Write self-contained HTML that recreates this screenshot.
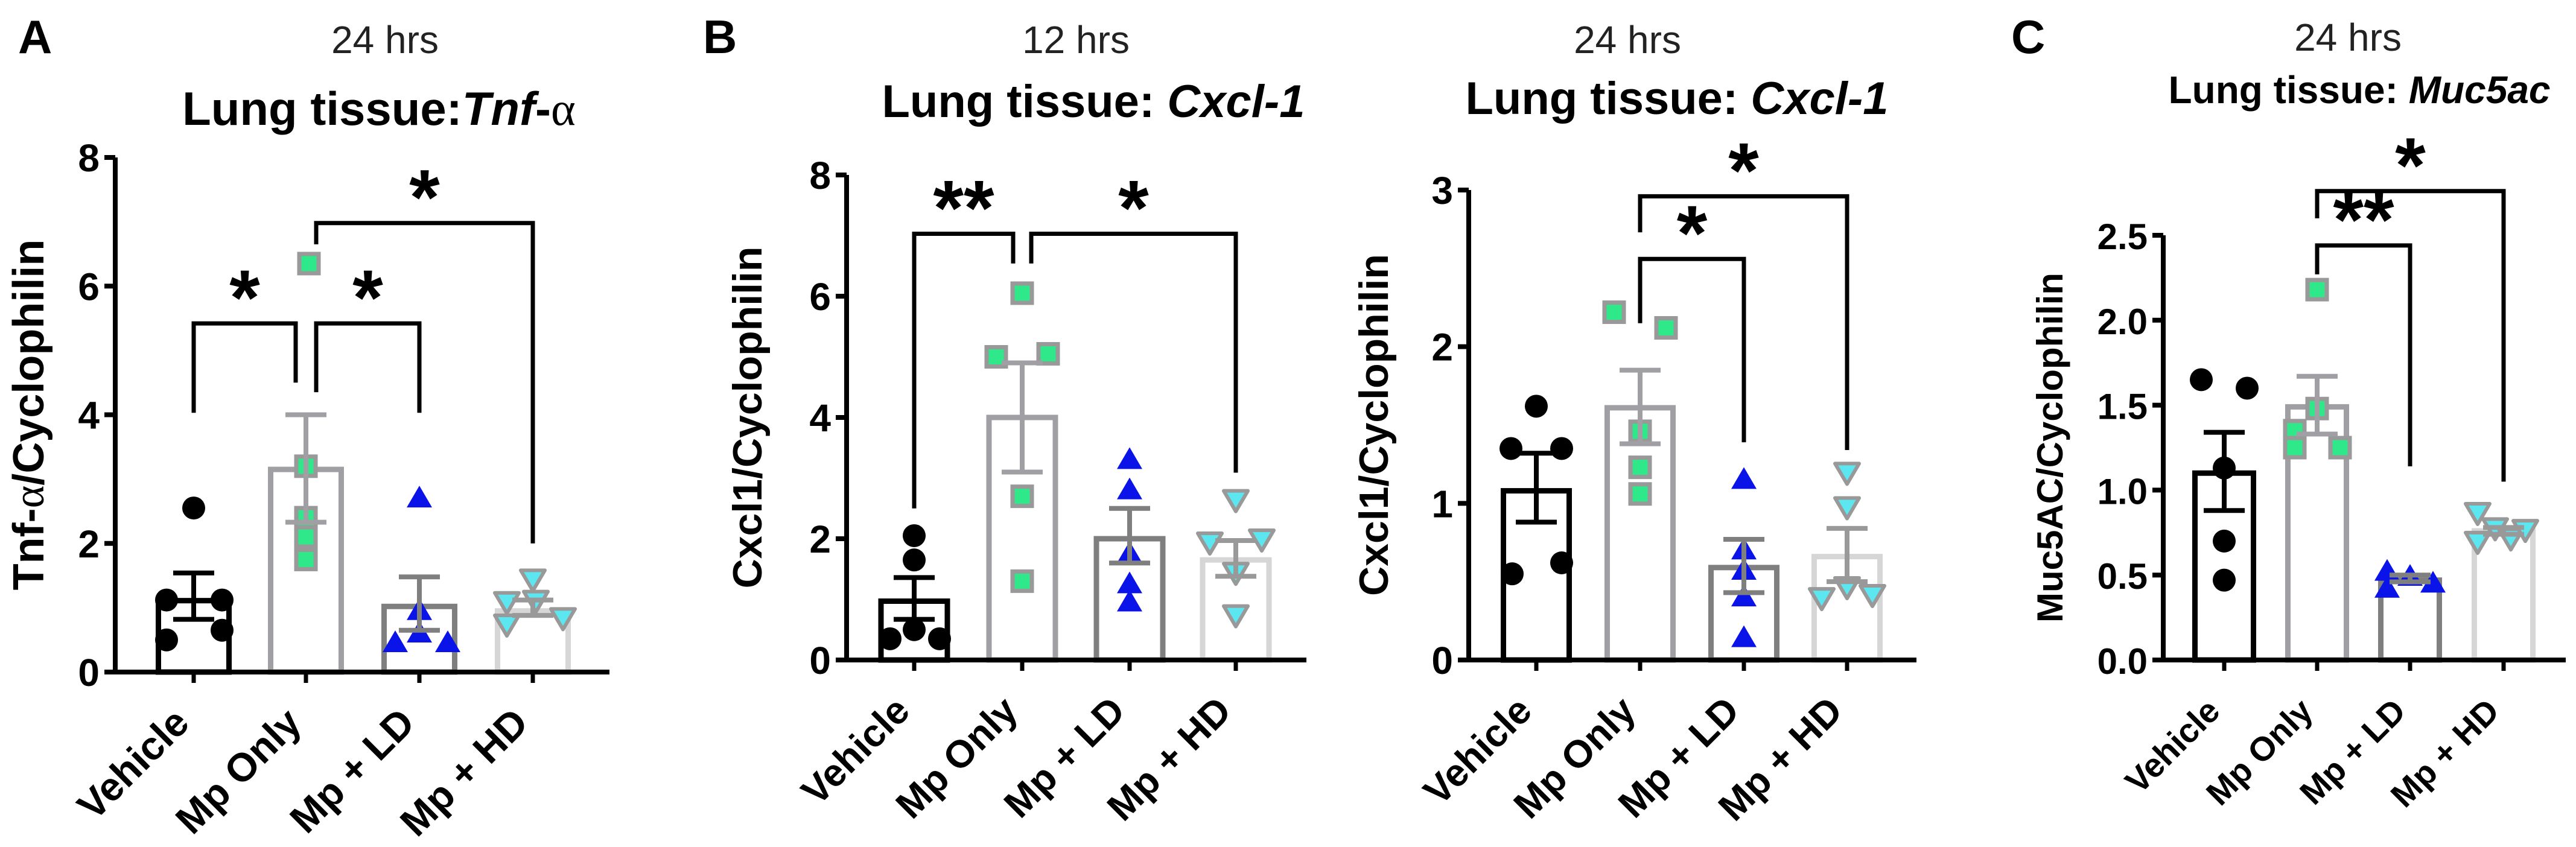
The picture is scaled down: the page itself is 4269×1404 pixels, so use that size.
<!DOCTYPE html>
<html><head><meta charset="utf-8"><style>
html,body{margin:0;padding:0;background:#fff;}
svg{display:block;font-family:"Liberation Sans",Arial,sans-serif;}
</style></head><body>
<svg id="fig" width="4269" height="1404" viewBox="0 0 4269 1404" xmlns="http://www.w3.org/2000/svg">
<text x="30" y="88" font-size="78" font-weight="bold">A</text>
<text x="1165" y="88" font-size="78" font-weight="bold">B</text>
<text x="3333" y="88" font-size="78" font-weight="bold">C</text>
<text x="638" y="88" font-size="64" text-anchor="middle" fill="#222">24 hrs</text>
<text x="1783" y="88" font-size="64" text-anchor="middle" fill="#222">12 hrs</text>
<text x="2697" y="88" font-size="64" text-anchor="middle" fill="#222">24 hrs</text>
<text x="3891" y="84" font-size="64" text-anchor="middle" fill="#222">24 hrs</text>
<text x="628" y="207" font-size="78" font-weight="bold" text-anchor="middle">Lung tissue:<tspan font-style="italic">Tnf</tspan>-<tspan font-family="Liberation Serif,serif" font-weight="normal">α</tspan></text>
<text x="1812" y="194" font-size="76" font-weight="bold" text-anchor="middle">Lung tissue: <tspan font-style="italic">Cxcl-1</tspan></text>
<text x="2779" y="189" font-size="76" font-weight="bold" text-anchor="middle">Lung tissue: <tspan font-style="italic">Cxcl-1</tspan></text>
<text x="3910" y="171" font-size="64" font-weight="bold" text-anchor="middle">Lung tissue: <tspan font-style="italic">Muc5ac</tspan></text>
</svg>
<script>
// ===== data =====
const categories = ["Vehicle","Mp Only","Mp + LD","Mp + HD"];
// Panel A: Tnf-alpha 24h
const aMeans = [1.11, 3.15, 1.02, 0.95];
const aSemHi = [1.54, 4.0, 1.48, 1.12];
const aSemLo = [0.82, 2.33, 0.65, 0.88];
const aPoints = [[2.55,1.12,1.12,0.5,0.65],[6.35,3.2,2.4,2.1,1.75],[2.7,0.95,0.6,0.45,0.45],[1.45,1.1,1.12,0.85,0.75]];
const aTicks = [0,2,4,6,8];
const aTickLabels = ["0","2","4","6","8"];
// Panel B1: Cxcl-1 12h
const b1Means = [0.97, 4.0, 2.0, 1.65];
const b1SemHi = [1.36, 4.9, 2.5, 1.97];
const b1SemLo = [0.67, 3.1, 1.6, 1.38];
const b1Points = [[2.05,1.65,0.5,0.35,0.35],[6.05,5.0,5.05,2.7,1.3],[3.3,2.8,1.75,1.25,0.95],[2.65,1.95,2.0,1.45,0.75]];
const b1Ticks = [0,2,4,6,8];
const b1TickLabels = ["0","2","4","6","8"];
// Panel B2: Cxcl-1 24h
const b2Means = [1.08, 1.61, 0.59, 0.66];
const b2SemHi = [1.32, 1.85, 0.77, 0.84];
const b2SemLo = [0.88, 1.38, 0.43, 0.5];
const b2Points = [[1.62,1.35,1.35,0.55,0.62],[2.22,2.12,1.46,1.23,1.06],[1.15,0.7,0.57,0.4,0.14],[1.2,0.98,0.47,0.4,0.42]];
const b2Ticks = [0,1,2,3];
const b2TickLabels = ["0","1","2","3"];
// Panel C: Muc5ac 24h
const cMeans = [1.1, 1.49, 0.47, 0.76];
const cSemHi = [1.34, 1.67, 0.5, 0.78];
const cSemLo = [0.88, 1.33, 0.46, 0.74];
const cPoints = [[1.65,1.6,1.13,0.7,0.47],[2.18,1.48,1.35,1.25,1.25],[0.52,0.42,0.49,0.45],[0.87,0.7,0.78,0.72,0.77]];
const cTicks = [0,0.5,1,1.5,2,2.5];
const cTickLabels = ["0.0","0.5","1.0","1.5","2.0","2.5"];
// brackets: [fromIdx, toIdx, barY, leftLegBottom, rightLegBottom, label]
const aBrackets = [[0,1,5.42,4.03,4.5,"*"],[1,2,5.42,4.35,4.03,"*"],[1,3,6.98,6.65,2.0,"*"]];
const b1Brackets = [[0,1,7.03,2.5,6.54,"**"],[1,3,7.03,6.54,3.09,"*"]];
const b2Brackets = [[1,2,2.56,2.15,1.39,"*"],[1,3,2.96,2.73,1.34,"*"]];
const cBrackets = [[1,2,2.44,2.27,1.14,"**"],[1,3,2.76,2.6,1.05,"*"]];

// ===== layout (not data) =====
const NS="http://www.w3.org/2000/svg";
const svg=document.getElementById('fig');
const barColors=["#000","#a0a0a4","#7f7f7f","#d6d6d6"];
function mk(tag,attrs,parent){const e=document.createElementNS(NS,tag);for(const k in attrs)e.setAttribute(k,attrs[k]);(parent||svg).appendChild(e);return e;}

function drawPanel(p){
  const g=mk('g',{});
  
  
  const y=v=>p.y0-(v-p.ymin)/(p.ymax-p.ymin)*(p.y0-p.ytop);
  const x=i=>p.cx[i];
  p.means.forEach((m,i)=>{
    const r=mk('rect',{x:x(i)-p.bw/2,y:y(m),width:p.bw,height:p.y0-y(m),fill:'none',stroke:barColors[i],'stroke-width':9},g);
    
    
  });
  p.points.forEach((arr,i)=>{
    arr.forEach((v,j)=>{
      const px=x(i)+(p.jit[i][j]||0), py=y(v); let e;
      if(i===0) e=mk('circle',{cx:px,cy:py,r:19,fill:'#000'},g);
      else if(i===1) e=mk('rect',{x:px-16,y:py-16,width:32,height:32,fill:'#2ee88a',stroke:'#999','stroke-width':7},g);
      else if(i===2) e=mk('polygon',{points:`${px},${py-21} ${px-21},${py+15} ${px+21},${py+15}`,fill:'#0a14e8'},g);
      else e=mk('polygon',{points:`${px-20},${py-14} ${px+20},${py-14} ${px},${py+20}`,fill:'#5ce6f0',stroke:'#999','stroke-width':6,'stroke-linejoin':'round'},g);
      
      
    });
  });
  p.means.forEach((m,i)=>{
    const c=i===3?'#999':barColors[i];
    const eb=mk('path',{d:`M${x(i)},${y(p.hi[i])}V${y(p.lo[i])}M${x(i)-34},${y(p.hi[i])}h68M${x(i)-34},${y(p.lo[i])}h68`,stroke:c,'stroke-width':8,fill:'none'},g);
    
    
  });
  const ax=mk('path',{d:`M${p.ax},${y(p.ymax)}V${p.y0}H${p.xend}`,stroke:'#000','stroke-width':8,fill:'none'},g);
  
  
  p.ticks.forEach((t,k)=>{
    mk('line',{x1:p.ax-18,x2:p.ax,y1:y(t),y2:y(t),stroke:'#000','stroke-width':8},g);
    const tl=mk('text',{x:p.ax-26,y:y(t)+23,'font-size':p.tfs,'font-weight':'bold','text-anchor':'end'},g);
    tl.textContent=p.tl[k];
    
    
  });
  categories.forEach((c,i)=>{
    mk('line',{x1:x(i),x2:x(i),y1:p.y0,y2:p.y0+18,stroke:'#000','stroke-width':7},g);
    const t=mk('text',{x:x(i)-4,y:p.y0+88,'font-size':p.xfs,'font-weight':'bold','text-anchor':'end',transform:`rotate(-45 ${x(i)-4} ${p.y0+88})`},g);
    t.textContent=c;
    
    
  });
  const yt=mk('text',{x:p.ytx,y:(p.y0+y(p.ymax))/2,'font-size':p.yfs,'font-weight':'bold','text-anchor':'middle',transform:`rotate(-90 ${p.ytx} ${(p.y0+y(p.ymax))/2})`},g);
  yt.innerHTML=p.ytitle;
  
  
  p.br.forEach(b=>{
    const x1=x(b[0])+(b[0]===1&&p.split?p.split:0), x2=x(b[1])-(b[1]===1&&p.split?p.split:0);
    const bp=mk('path',{d:`M${x1},${y(b[3])}V${y(b[2])}H${x2}V${y(b[4])}`,stroke:'#000','stroke-width':7,fill:'none'},g);
    
    
    const st=mk('text',{x:(x1+x2)/2,y:y(b[2])+2,'font-size':130,'font-weight':'bold','text-anchor':'middle'},g);
    st.textContent=b[5];
    
    
  });
}

drawPanel({name:'chart-tnf-24h',means:aMeans,hi:aSemHi,lo:aSemLo,points:aPoints,ticks:aTicks,tl:aTickLabels,br:aBrackets,
  ymin:0,ymax:8,y0:1114,ytop:261,ax:191,xend:1010,cx:[321,507,695,883],bw:117,split:17,
  jit:[[0,-45,47,-45,47],[5,0,0,0,0],[0,0,0,-40,47],[0,-43,5,50,-43]],
  tfs:64,xfs:66,yfs:72,ytx:72,ytitle:'Tnf-<tspan font-family="Liberation Serif,serif" font-weight="normal">α</tspan>/Cyclophilin'});
drawPanel({name:'chart-cxcl1-12h',means:b1Means,hi:b1SemHi,lo:b1SemLo,points:b1Points,ticks:b1Ticks,tl:b1TickLabels,br:b1Brackets,
  ymin:0,ymax:8,y0:1094,ytop:290,ax:1403,xend:2165,cx:[1515,1694,1872,2048],bw:110,split:15,
  jit:[[0,0,0,-40,42],[0,-43,43,0,0],[0,0,0,0,0],[0,-43,43,0,0]],
  tfs:64,xfs:64,yfs:68,ytx:1262,ytitle:'Cxcl1/Cyclophilin'});
drawPanel({name:'chart-cxcl1-24h',means:b2Means,hi:b2SemHi,lo:b2SemLo,points:b2Points,ticks:b2Ticks,tl:b2TickLabels,br:b2Brackets,
  ymin:0,ymax:3,y0:1094,ytop:315,ax:2434,xend:3176,cx:[2546,2718,2890,3061],bw:109,split:0,
  jit:[[0,-42,42,-40,42],[-43,43,0,0,0],[0,0,0,0,0],[0,0,0,-42,42]],
  tfs:64,xfs:64,yfs:68,ytx:2300,ytitle:'Cxcl1/Cyclophilin'});
drawPanel({name:'chart-muc5ac-24h',means:cMeans,hi:cSemHi,lo:cSemLo,points:cPoints,ticks:cTicks,tl:cTickLabels,br:cBrackets,
  ymin:0,ymax:2.5,y0:1094,ytop:390,ax:3585,xend:4252,cx:[3686,3840,3994,4149],bw:97,split:0,
  jit:[[-38,38,0,0,0],[0,0,-37,-37,38],[-38,-38,0,38],[-43,-43,-14,12,36]],
  tfs:60,xfs:56,yfs:60,ytx:3418,ytitle:'Muc5AC/Cyclophilin'});
</script>
</body></html>
